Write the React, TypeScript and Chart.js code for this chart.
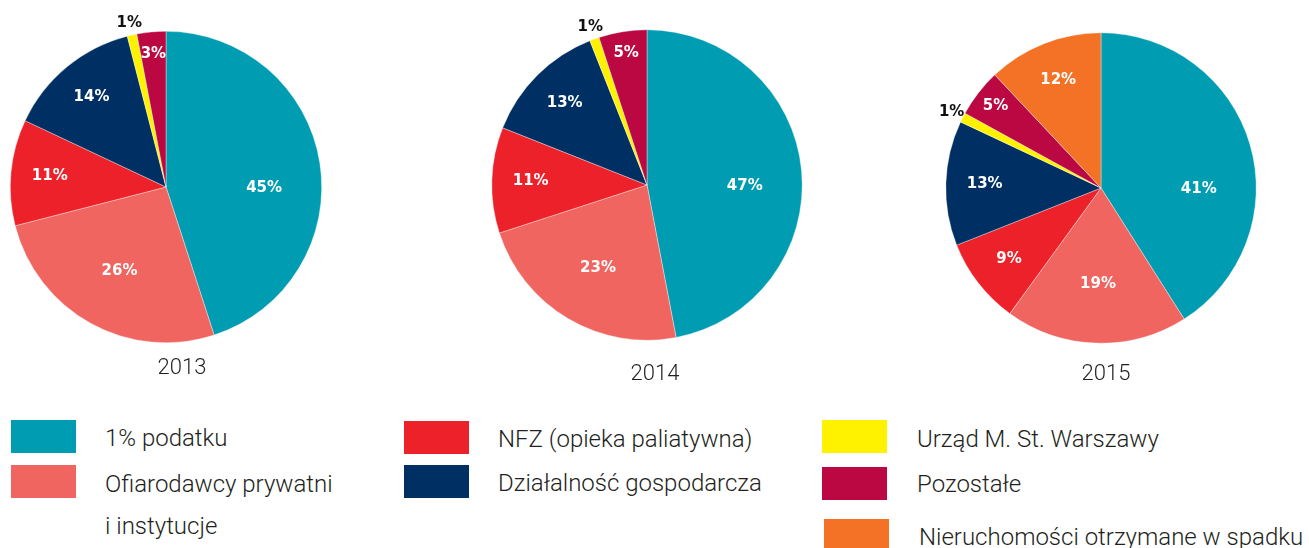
import React, { useEffect, useRef } from "react";
import { Chart, registerables } from "chart.js";
Chart.register(...registerables);

const categories = [
  "1% podatku",
  "Ofiarodawcy prywatni i instytucje",
  "NFZ (opieka paliatywna)",
  "Działalność gospodarcza",
  "Urząd M. St. Warszawy",
  "Pozostałe",
  "Nieruchomości otrzymane w spadku",
];
const years = ["2013", "2014", "2015"];
const values2013 = [45, 26, 11, 14, 1, 3];
const values2014 = [47, 23, 11, 13, 1, 5];
const values2015 = [41, 19, 9, 13, 1, 5, 12];
const sliceColors = ["#009DB2", "#F0655F", "#ED2129", "#003063", "#FFF200", "#BB0842", "#F37225"];

const TEXT = "#231F20";

const labelPlugin = {
  id: "pctLabels",
  afterDatasetsDraw(chart: any) {
    const ctx = chart.ctx;
    const meta = chart.getDatasetMeta(0);
    const data = chart.data.datasets[0].data as number[];
    ctx.save();
    meta.data.forEach((arc: any, i: number) => {
      const v = data[i];
      const p = arc.getProps(["x", "y", "startAngle", "endAngle", "outerRadius"], true);
      let mid = (p.startAngle + p.endAngle) / 2;
      // large slices spanning the horizontal: label near the horizontal
      if (v >= 35 && p.startAngle < 0 && p.endAngle > 0) mid = 0.01;
      const f = v >= 35 ? 0.63 : v >= 15 ? 0.62 : v >= 6 ? 0.75 : v >= 2 ? 0.86 : 1.08;
      const tx = p.x + Math.cos(mid) * p.outerRadius * f;
      const ty = p.y + Math.sin(mid) * p.outerRadius * f;
      ctx.fillStyle = v <= 1 ? "#111111" : "#ffffff";
      ctx.font = "700 15px 'DejaVu Sans'";
      ctx.textAlign = "center";
      ctx.textBaseline = "middle";
      ctx.fillText(v + "%", tx, ty);
    });
    ctx.restore();
  },
};

function Pie({ values, cx, cy, r }: { values: number[]; cx: number; cy: number; r: number }) {
  const ref = useRef<HTMLCanvasElement | null>(null);
  const S = 400;
  useEffect(() => {
    if (!ref.current) return;
    const chart = new Chart(ref.current, {
      type: "pie",
      data: {
        labels: categories.slice(0, values.length),
        datasets: [
          {
            data: values,
            backgroundColor: sliceColors.slice(0, values.length),
            borderColor: "rgba(255,255,255,0.6)",
            borderWidth: 0.6,
          },
        ],
      },
      options: {
        responsive: false,
        animation: false,
        devicePixelRatio: 1,
        layout: { padding: S / 2 - r },
        plugins: { legend: { display: false }, tooltip: { enabled: false } },
      },
      plugins: [labelPlugin],
    });
    return () => chart.destroy();
  }, []);
  return (
    <canvas
      ref={ref}
      width={S}
      height={S}
      style={{ position: "absolute", left: cx - S / 2, top: cy - S / 2, width: S, height: S }}
    />
  );
}

function Txt({ x, baseline, size, children, center }: any) {
  const top = baseline - size * 0.84;
  return (
    <div
      style={{
        position: "absolute",
        left: center ? x - 100 : x,
        width: center ? 200 : undefined,
        textAlign: center ? "center" : "left",
        top,
        fontFamily: "Roboto",
        fontWeight: 300,
        fontSize: size,
        lineHeight: 1,
        color: TEXT,
        whiteSpace: "nowrap",
      }}
    >
      {children}
    </div>
  );
}

function Swatch({ x, y, color }: any) {
  return <div style={{ position: "absolute", left: x, top: y, width: 65, height: 33, background: color }} />;
}

export default function App() {
  return (
    <div style={{ position: "absolute", left: 0, top: 0, width: 1309, height: 548, background: "#fff", overflow: "hidden" }}>
      <Pie values={values2013} cx={166} cy={187} r={156} />
      <Pie values={values2014} cx={647} cy={185} r={155.5} />
      <Pie values={values2015} cx={1101} cy={188} r={155.5} />
      <Txt x={182} baseline={374} size={22} center>{years[0]}</Txt>
      <Txt x={655} baseline={380} size={22} center>{years[1]}</Txt>
      <Txt x={1106} baseline={380} size={22} center>{years[2]}</Txt>

      <Swatch x={11} y={420} color={sliceColors[0]} />
      <Txt x={105} baseline={446} size={24}>{categories[0]}</Txt>
      <Swatch x={11} y={465} color={sliceColors[1]} />
      <Txt x={105} baseline={492} size={24}>Ofiarodawcy prywatni</Txt>
      <Txt x={105} baseline={534} size={24}>i instytucje</Txt>

      <Swatch x={404} y={421} color={sliceColors[2]} />
      <Txt x={498} baseline={447} size={24}>{categories[2]}</Txt>
      <Swatch x={404} y={465} color={sliceColors[3]} />
      <Txt x={498} baseline={491} size={24}>{categories[3]}</Txt>

      <Swatch x={822} y={420} color={sliceColors[4]} />
      <Txt x={917} baseline={447} size={24}>{categories[4]}</Txt>
      <Swatch x={822} y={467} color={sliceColors[5]} />
      <Txt x={917} baseline={492} size={24}>{categories[5]}</Txt>
      <Swatch x={824} y={519} color={sliceColors[6]} />
      <Txt x={919} baseline={545} size={24}>{categories[6]}</Txt>
    </div>
  );
}
